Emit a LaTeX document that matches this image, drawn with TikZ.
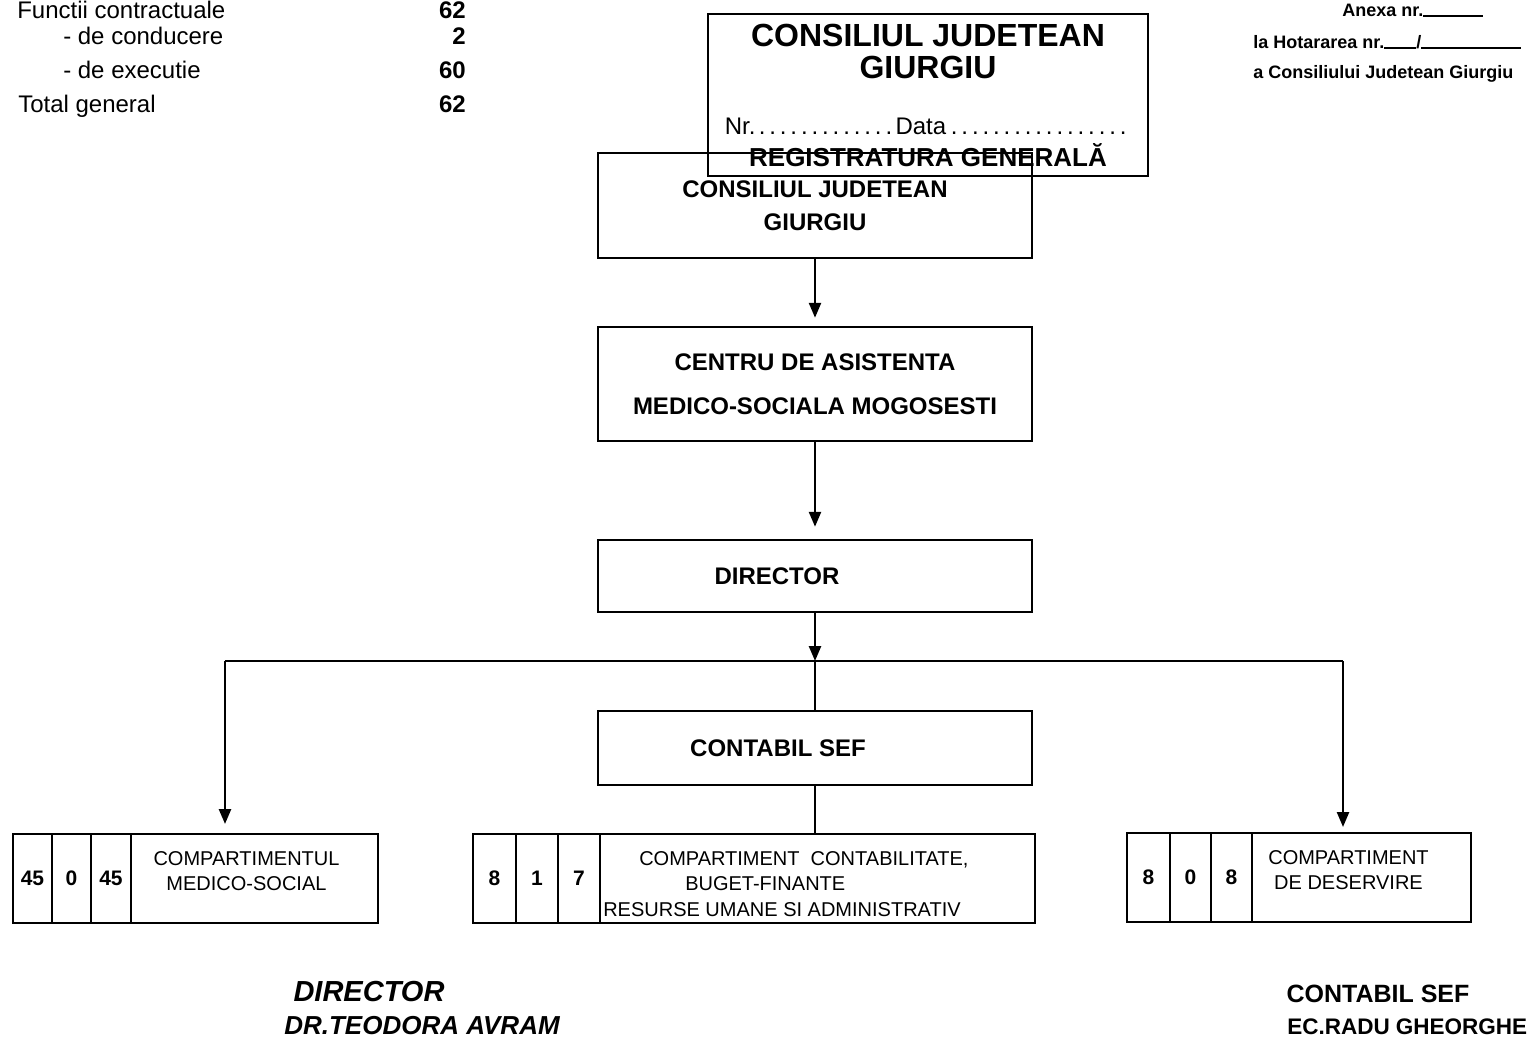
\documentclass[tikz,border=0pt]{standalone}
\usepackage{fontspec}
\setmainfont{Liberation Sans}
\usepackage{tikz}
\usetikzlibrary{positioning}
\usetikzlibrary{arrows.meta}

\begin{document}
\begin{tikzpicture}[x=1pt, y=-1pt, line width=2.5pt,
                          >={Triangle[length=15pt, width=12pt]},
                          mainbox/.style={rectangle, draw, minimum width=434pt, align=center, font=\fontsize{24}{29}\selectfont\bfseries},
                          stampbox/.style={rectangle, draw, line width=2pt, minimum width=440pt, minimum height=162pt, align=center, font=\fontsize{32}{32}\selectfont\bfseries},
                          numcell/.style={rectangle, draw, outer sep=0pt, minimum height=89pt, font=\fontsize{21}{25}\selectfont\bfseries},
                          namecell/.style={rectangle, draw, outer sep=0pt, minimum height=89pt},
                          celltext/.style={inner sep=2pt, font=\fontsize{20}{25.5}\selectfont},
                          tabtext/.style={inner sep=0pt, font=\fontsize{24}{29}\selectfont},
                          notetext/.style={inner sep=0pt, font=\fontsize{18}{22}\selectfont\bfseries},
                          signtext/.style={inner sep=0pt, font=\fontsize{27}{32}\selectfont\bfseries},
                      ]
                      \useasboundingbox (0,0) rectangle (1528,1039);

                      % Header texts
                      \node[tabtext, anchor=base west]  (fc_lbl)    at (16,18)      {Functii contractuale};
                      \node[tabtext, anchor=base east]  (fc_num)    at (467,18)     {\bfseries 62};
                      \node[tabtext, anchor=base west]  (lead_lbl)  at (62,44.5)    {- de conducere};
                      \node[tabtext, anchor=base east]  (lead_num)  at (467,44.5)   {\bfseries 2};
                      \node[tabtext, anchor=base west]  (exec_lbl)  at (62,78.5)    {- de executie};
                      \node[tabtext, anchor=base east]  (exec_num)  at (467,78.5)   {\bfseries 60};
                      \node[tabtext, anchor=base west]  (tot_lbl)   at (17,112.5)   {Total general};
                      \node[tabtext, anchor=base east]  (tot_num)   at (467,112.5)  {\bfseries 62};

                      \node[notetext, anchor=base west] (annex)     at (1341,16.5)  {Anexa nr.\rule{60pt}{1.4pt}};
                      \node[notetext, anchor=base west] (decision)  at (1252,48.5)  {la Hotararea nr.\rule{32pt}{1.4pt}/\rule{100pt}{1.4pt}};
                      \node[notetext, anchor=base west] (council_n) at (1252,78.5)  {a Consiliului Judetean Giurgiu};

                      % Nodes
                      \node[stampbox]   (stamp)     at (928,95)     {CONSILIUL JUDETEAN\\GIURGIU\\[24pt]{\fontsize{24}{32}\selectfont\mdseries Nr.\makebox[140pt]{\dotfill}Data\makebox[185pt]{\dotfill}}\\{\fontsize{26}{32}\selectfont REGISTRATURA GENERALĂ}};

                      \node[mainbox, minimum height=105pt]  (council)   at (815,205.5)  {CONSILIUL JUDETEAN\\[4pt]GIURGIU};
                      \node[mainbox, minimum height=114pt]  (centre)    at (815,384)    {CENTRU DE ASISTENTA\\[15pt]MEDICO-SOCIALA MOGOSESTI};
                      \node[mainbox, minimum height=72pt]   (director)  at (815,576)    {DIRECTOR\hspace*{76pt}};
                      \node[mainbox, minimum height=74pt]   (chief)     at (815,748)    {CONTABIL SEF\hspace*{74pt}};

                      \node[numcell, minimum width=39pt]    (med_total)  at (32.5,878.5)   {45};
                      \node[numcell, minimum width=39pt]    (med_lead)   [right=0pt of med_total]  {0};
                      \node[numcell, minimum width=40pt]    (med_exec)   [right=0pt of med_lead]   {45};
                      \node[namecell, minimum width=247pt]  (med_cell)   [right=0pt of med_exec]   {};
                      \node[celltext, align=center]         (med_text)   [below=14pt of med_cell.north, xshift=-8pt] {COMPARTIMENTUL\\MEDICO-SOCIAL};

                      \node[numcell, minimum width=43pt]    (acc_total)  at (494.5,878.5)  {8};
                      \node[numcell, minimum width=42pt]    (acc_lead)   [right=0pt of acc_total]  {1};
                      \node[numcell, minimum width=42pt]    (acc_exec)   [right=0pt of acc_lead]   {7};
                      \node[namecell, minimum width=435pt]  (acc_cell)   [right=0pt of acc_exec]   {};
                      \node[celltext, align=left]           (acc_text)   [below right=14pt and 0pt of acc_cell.north west] {\hspace*{36pt}COMPARTIMENT\ \ CONTABILITATE,\\\hspace*{82pt}BUGET-FINANTE\\RESURSE UMANE SI ADMINISTRATIV};

                      \node[numcell, minimum width=43pt]    (dsv_total)  at (1148.5,877.5) {8};
                      \node[numcell, minimum width=41pt]    (dsv_lead)   [right=0pt of dsv_total]  {0};
                      \node[numcell, minimum width=41pt]    (dsv_exec)   [right=0pt of dsv_lead]   {8};
                      \node[namecell, minimum width=219pt]  (dsv_cell)   [right=0pt of dsv_exec]   {};
                      \node[celltext, align=center]         (dsv_text)   [below=14pt of dsv_cell.north, xshift=-13pt] {COMPARTIMENT\\DE DESERVIRE};

                      % Signatures
                      \node[signtext, anchor=base, font=\fontsize{29}{32}\selectfont\bfseries\itshape] (dir_sign)  at (369,1001.5) {DIRECTOR};
                      \node[signtext, anchor=base, font=\fontsize{26}{32}\selectfont\bfseries\itshape] (dir_name)  at (422,1034.5) {DR.TEODORA AVRAM};
                      \node[signtext, anchor=base, font=\fontsize{25}{30}\selectfont\bfseries] (chief_sign) at (1378,1002) {CONTABIL SEF};
                      \node[signtext, anchor=base west, font=\fontsize{22.5}{28}\selectfont\bfseries] (chief_name) at (1286,1034) {EC.RADU GHEORGHE};

                      %Lines
                      \coordinate (bus)   at (815,661);
                      \coordinate (bus_w) at (225,661);
                      \coordinate (bus_e) at (1343,661);
                      \draw[->, shorten >=8pt] (council.south) -- (centre.north);
                      \draw[->, shorten >=12pt] (centre.south) -- (director.north);
                      \draw[->] (director.south) -- (bus);
                      \draw (bus_w) -- (bus_e);
                      \draw[->, shorten >=10pt] (bus_w) -- (bus_w |- med_cell.north);
                      \draw[->, shorten >=6pt] (bus_e) -- (bus_e |- dsv_cell.north);
                      \draw (bus) -- (chief.north);
                      \draw (chief.south) -- (chief.south |- acc_cell.north);
                  \end{tikzpicture}
\end{document}
